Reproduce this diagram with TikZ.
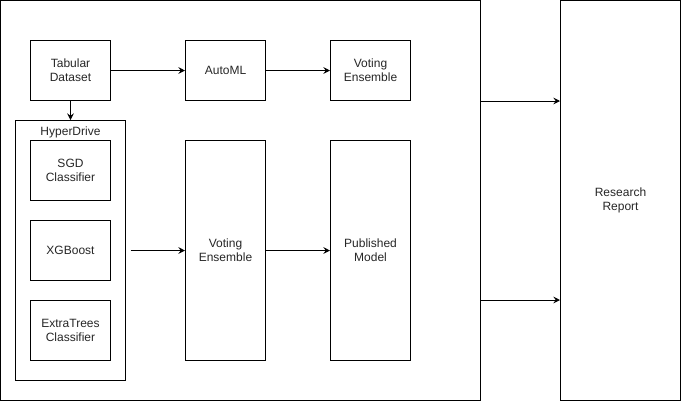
\documentclass[tikz,border=0pt]{standalone}
\usepackage{fontspec}
\setmainfont{Liberation Sans}
\usetikzlibrary{arrows.meta}
\begin{document}
\begin{tikzpicture}[x=0.75pt,y=-0.75pt,
  every node/.style={font=\fontsize{9pt}{10.5pt}\selectfont, text=black!85},
  box/.style={draw, line width=0.75pt, rectangle, inner sep=0pt, align=center},
  arr/.style={-{Stealth[length=5pt,width=5pt,inset=1.8pt]}, line width=0.75pt}]
\useasboundingbox (0,0) rectangle (681,401);
\node[box, minimum width=360pt, minimum height=300pt] (outer) at (240.5,200.5) {};
\node[box, minimum width=90pt, minimum height=300pt] (report) at (620.5,200.5) {Research\\Report};
\node[box, minimum width=82.5pt, minimum height=195pt] (hd) at (70.5,250.5) {};
\node (hdlabel) at (70.5,132) {HyperDrive};
\node[box, minimum width=60pt, minimum height=45pt] (tab) at (70.5,70.5) {Tabular\\Dataset};
\node[box, minimum width=60pt, minimum height=45pt] (automl) at (225.5,70.5) {AutoML};
\node[box, minimum width=60pt, minimum height=45pt] (ve1) at (370.5,70.5) {Voting\\Ensemble};
\node[box, minimum width=60pt, minimum height=45pt] (sgd) at (70.5,170.5) {SGD\\Classifier};
\node[box, minimum width=60pt, minimum height=45pt] (xgb) at (70.5,250.5) {XGBoost};
\node[box, minimum width=60pt, minimum height=45pt] (et) at (70.5,330.5) {ExtraTrees\\Classifier};
\node[box, minimum width=60pt, minimum height=165pt] (ve2) at (225.5,250.5) {Voting\\Ensemble};
\node[box, minimum width=60pt, minimum height=165pt] (pub) at (370.5,250.5) {Published\\Model};
\coordinate (hdout) at (130.5,250.5);
\draw[arr] (tab) -- (automl);
\draw[arr] (automl) -- (ve1);
\draw[arr] (tab) -- (hd);
\draw[arr] (hdout) -- (ve2);
\draw[arr] (ve2) -- (pub);
\draw[arr] (outer.east |- tab.south) -- (report.west |- tab.south);
\draw[arr] (outer.east |- et.north) -- (report.west |- et.north);
\end{tikzpicture}
\end{document}
